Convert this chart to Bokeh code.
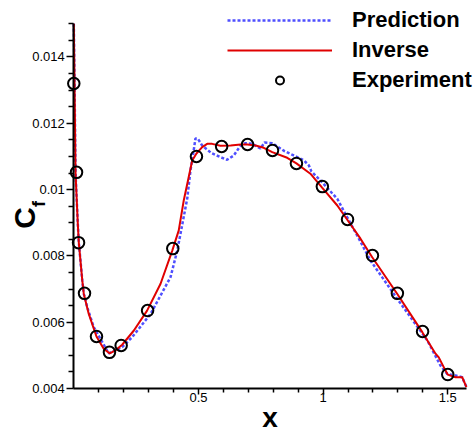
import math
from bokeh.plotting import figure
from bokeh.models import (FixedTicker, Label, Legend, LegendItem, Range1d, LinearAxis,
                          CustomJSTickFormatter)
from bokeh.embed import file_html
from bokeh.resources import INLINE

# ---- data ----
inv_x = [0.0, 0.003, 0.007, 0.016, 0.020, 0.034, 0.040, 0.060, 0.091, 0.120, 0.144, 0.167, 0.194,
         0.241, 0.294, 0.348, 0.395, 0.421, 0.441, 0.475, 0.492, 0.515, 0.535, 0.555, 0.588, 0.629,
         0.669, 0.696, 0.729, 0.762, 0.796, 0.856, 0.893, 0.949, 0.996, 1.057, 1.097, 1.150, 1.197,
         1.297, 1.398, 1.451, 1.464, 1.491, 1.500, 1.531, 1.558, 1.575]
inv_y = [0.0150, 0.0132, 0.01049, 0.00898, 0.00841, 0.00726, 0.00686, 0.00625, 0.00557, 0.00520,
         0.00506, 0.00515, 0.00532, 0.00575, 0.00635, 0.00716, 0.00816, 0.00877, 0.00967, 0.01088,
         0.01109, 0.01128, 0.01138, 0.01138, 0.01132, 0.01133, 0.01136, 0.01136, 0.01133, 0.01126,
         0.01113, 0.01096, 0.01079, 0.01048, 0.01006, 0.00952, 0.00909, 0.00852, 0.00796, 0.00686,
         0.00570, 0.00505, 0.00494, 0.00454, 0.00442, 0.00434, 0.00434, 0.00404]

pred_x = [0.0, 0.003, 0.007, 0.016, 0.020, 0.034, 0.040, 0.054, 0.080, 0.140, 0.194, 0.234, 0.308,
          0.388, 0.415, 0.455, 0.468, 0.479, 0.488, 0.497, 0.515, 0.552, 0.588, 0.615, 0.642, 0.669,
          0.689, 0.716, 0.749, 0.765, 0.796, 0.845, 0.882, 0.923, 0.943, 0.953, 0.990, 1.057, 1.097,
          1.150, 1.190, 1.297, 1.418, 1.471, 1.498, 1.531, 1.558, 1.575]
pred_y = [0.0150, 0.0132, 0.01049, 0.00898, 0.00841, 0.00726, 0.00686, 0.00645, 0.00585, 0.00506,
          0.00525, 0.00555, 0.00625, 0.00736, 0.00816, 0.00973, 0.01058, 0.01109, 0.01154, 0.01154,
          0.01133, 0.01110, 0.01098, 0.01090, 0.01103, 0.01133, 0.01140, 0.01138, 0.01124, 0.01142,
          0.01140, 0.01116, 0.01103, 0.01088, 0.01073, 0.01055, 0.01027, 0.00972, 0.00916, 0.00843,
          0.00786, 0.00671, 0.00545, 0.00469, 0.00444, 0.00439, 0.00434, 0.00404]

exp_x = [0.0, 0.011, 0.019, 0.043, 0.091, 0.143, 0.19, 0.296, 0.397, 0.492, 0.593, 0.697, 0.797,
         0.893, 0.997, 1.098, 1.198, 1.298, 1.399, 1.5]
exp_y = [0.0132, 0.01052, 0.0084, 0.00687, 0.00557, 0.00509, 0.0053, 0.00635, 0.00822, 0.0110,
         0.0113, 0.01136, 0.01118, 0.01079, 0.01009, 0.0091, 0.00801, 0.00687, 0.00572, 0.00442]

x_major = [0.5, 1.0, 1.5]
x_minor = [0.1, 0.2, 0.3, 0.4, 0.6, 0.7, 0.8, 0.9, 1.1, 1.2, 1.3, 1.4]
y_major = [0.004, 0.006, 0.008, 0.01, 0.012, 0.014]
y_minor = [0.0045, 0.005, 0.0055, 0.0065, 0.007, 0.0075, 0.0085, 0.009, 0.0095, 0.0105, 0.011,
           0.0115, 0.0125, 0.013, 0.0135, 0.0145, 0.015]

labels = ["Prediction", "Inverse", "Experiment"]

FONT = "Liberation Sans"

# frame covers the whole canvas; axes are placed at fixed data locations
p = figure(width=476, height=432, min_border=0,
           x_axis_location=None, y_axis_location=None,
           x_range=Range1d(-0.29402, 1.61532), y_range=Range1d(0.002673, 0.015704),
           output_backend="svg", toolbar_location=None)
p.outline_line_color = None
p.grid.visible = False

r_pred = p.line(pred_x, pred_y, line_color="#4f4fff", line_width=2.5, line_dash="3 2")
r_inv = p.line(inv_x, inv_y, line_color="#e00000", line_width=2)
r_exp = p.scatter(exp_x, exp_y, marker="circle", size=11.5, fill_color=None,
                  line_color="black", line_width=2)

fmt = CustomJSTickFormatter(code="return tick.toString();")
xaxis = LinearAxis(fixed_location=0.004, bounds=(0, 1.575),
                   ticker=FixedTicker(ticks=x_major, minor_ticks=x_minor),
                   major_tick_out=6, minor_tick_out=4, major_label_standoff=-2)
yaxis = LinearAxis(fixed_location=0, bounds=(0.004, 0.015),
                   ticker=FixedTicker(ticks=y_major, minor_ticks=y_minor),
                   major_tick_out=7, minor_tick_out=5, major_label_standoff=2)
for ax in (xaxis, yaxis):
    ax.axis_line_width = 2
    ax.axis_line_color = "black"
    ax.major_tick_line_width = 1.5
    ax.minor_tick_line_width = 1.5
    ax.major_tick_line_color = "black"
    ax.minor_tick_line_color = "black"
    ax.major_tick_in = 0
    ax.minor_tick_in = 0
    ax.major_label_text_font = FONT
    ax.major_label_text_font_size = "13px"
    ax.major_label_text_color = "black"
    ax.formatter = fmt
p.add_layout(xaxis, "below")
p.add_layout(yaxis, "left")

legend = Legend(items=[LegendItem(label=labels[0], renderers=[r_pred]),
                       LegendItem(label=labels[1], renderers=[r_inv]),
                       LegendItem(label=labels[2], renderers=[r_exp])],
                location=(227, 339), glyph_width=105, glyph_height=20, label_height=24,
                spacing=4, label_standoff=20, padding=0, margin=0,
                border_line_color=None, background_fill_alpha=0,
                label_text_font=FONT, label_text_font_size="22px",
                label_text_font_style="bold", label_text_color="black")
p.add_layout(legend)

p.add_layout(Label(x=24, y=214.5, x_units="screen", y_units="screen", text="C",
                   angle=math.pi / 2, text_font=FONT, text_font_size="30px",
                   text_font_style="bold", text_align="center", text_baseline="alphabetic",
                   text_color="black"))
p.add_layout(Label(x=38, y=228.5, x_units="screen", y_units="screen", text="f",
                   angle=math.pi / 2, text_font=FONT, text_font_size="18px",
                   text_font_style="bold", text_align="center", text_baseline="alphabetic",
                   text_color="black"))
p.add_layout(Label(x=269.5, y=15, x_units="screen", y_units="screen", text="x",
                   text_font=FONT, text_font_size="28px", text_font_style="bold",
                   text_align="center", text_baseline="alphabetic", text_color="black"))

open("out.html", "w").write(file_html(p, INLINE))
